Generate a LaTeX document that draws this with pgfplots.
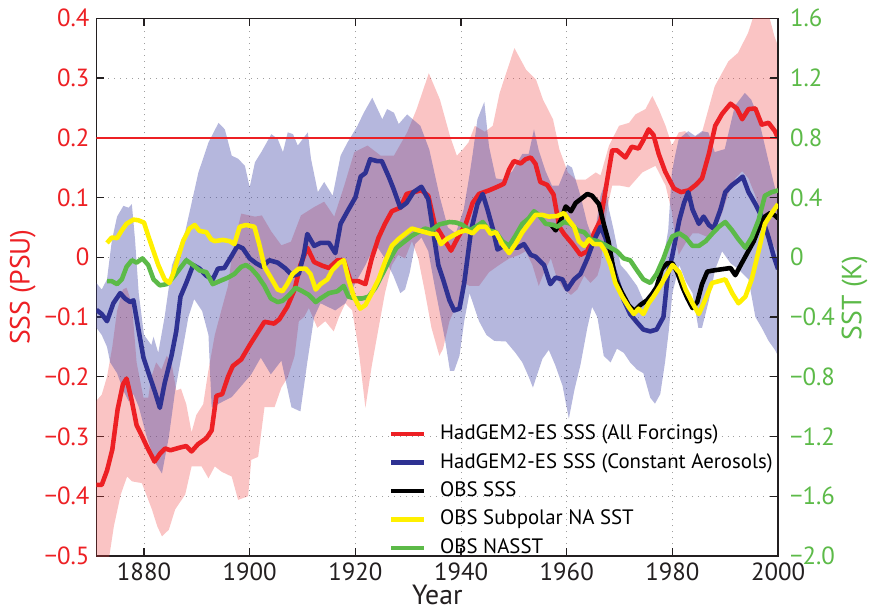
\documentclass[border=0pt]{standalone}
\usepackage{fontspec}
\setmainfont{PT Sans}
\usepackage{pgfplots}
\pgfplotsset{compat=1.18}
\usepgfplotslibrary{fillbetween}
\usetikzlibrary{calc}

\definecolor{sssred}{RGB}{237,32,36}
\definecolor{aeroblue}{RGB}{46,49,146}
\definecolor{obsyellow}{RGB}{255,240,0}
\definecolor{nagreen}{RGB}{92,186,72}
\definecolor{pinkfill}{RGB}{240,60,60}
\definecolor{lavfill}{RGB}{60,66,165}
\definecolor{axisgray}{RGB}{35,31,32}

\pgfplotsset{
  twin/.style={
    scale only axis, width=343.5pt, height=271pt,
    xmin=1871, xmax=2000,
    tick align=inside, major tick length=4pt,
    axis line style={axisgray, line width=0.7pt},
    tick style={axisgray, line width=0.6pt},
    tick label style={font=\fontsize{12.5}{14}\selectfont},
  },
}

\begin{document}
\begin{tikzpicture}
% left axis: SSS (PSU)
\begin{axis}[twin, name=main,
    ymin=-0.5, ymax=0.4,
    xtick={1880,1900,1920,1940,1960,1980,2000},
    xticklabels={1880,1900,1920,1940,1960,1980,2000},
    xtick pos=both, ytick pos=left,
    ytick={-0.5,-0.4,-0.3,-0.2,-0.1,0,0.1,0.2,0.3,0.4},
    yticklabels={−0.5,−0.4,−0.3,−0.2,−0.1,0,0.1,0.2,0.3,0.4},
    yticklabel style={text=sssred},
    xticklabel style={text=axisgray},
    grid=major, grid style={gray!75, line width=0.5pt, dash pattern=on 0.5pt off 2.5pt},
    xlabel={Year},
    xlabel style={at={(axis description cs:0.5,-0.072)}, anchor=center, text=axisgray, font=\fontsize{14}{16}\selectfont},
    ylabel={SSS (PSU)},
    every axis y label/.style={at={(axis description cs:-0.108,0.5)}, rotate=90, anchor=center, text=sssred, font=\fontsize{14}{16}\selectfont},
]
% HadGEM2-ES all forcings spread
\addplot[name path=pu, draw=none] coordinates {
(1871,-0.24)(1872,-0.23)(1873,-0.20)(1874,-0.15)(1874.9,-0.09)(1876,-0.054)(1876.7,-0.051)
(1877.7,-0.077)(1878.6,-0.176)(1879.9,-0.235)(1880.8,-0.235)(1881.4,-0.2)(1882.3,-0.176)
(1883.3,-0.188)(1884.3,-0.165)(1885.2,-0.176)(1886.1,-0.223)(1887,-0.22)(1888,-0.246)
(1889,-0.293)(1889.9,-0.264)(1891.2,-0.246)(1892.1,-0.194)(1893.4,-0.13)(1894.6,-0.09)
(1895.9,-0.048)(1896.6,0.0)(1897.5,0.04)(1898.4,0.073)(1900,0.07)(1901,0.068)(1902.3,0.07)
(1904.1,0.043)(1906,0.02)(1907.8,0.026)(1909.7,0.07)(1912.2,0.084)(1914.1,0.093)(1916,0.068)
(1917.9,0.12)(1919.8,0.176)(1922.3,0.187)(1924.8,0.17)(1927.3,0.17)(1929.8,0.209)(1931.6,0.248)
(1933.9,0.308)(1936,0.264)(1937.9,0.203)(1939.2,0.17)(1940.1,0.178)(1941.4,0.192)(1942.6,0.22)
(1944.5,0.21)(1946,0.22)(1947.3,0.275)(1950.1,0.35)(1952.3,0.314)(1954.2,0.297)(1955.5,0.264)
(1957.4,0.231)(1958.6,0.181)(1960.2,0.142)(1961.7,0.13)(1963.6,0.13)(1965.5,0.142)(1966.4,0.137)
(1968,0.187)(1969.9,0.22)(1971.8,0.225)(1973,0.239)(1974.9,0.248)(1976.2,0.27)(1977.4,0.248)
(1978.7,0.22)(1979.9,0.187)(1981.2,0.209)(1982.4,0.211)(1983.7,0.198)(1985.6,0.209)(1988,0.286)
(1990.6,0.328)(1992.4,0.342)(1994.3,0.375)(1995.6,0.41)(1998.1,0.41)(1999.3,0.37)(2000,0.353)};
\addplot[name path=pl, draw=none] coordinates {
(1871,-0.52)(1873.1,-0.52)(1874.3,-0.45)(1875.6,-0.397)(1876.8,-0.367)(1877.7,-0.375)
(1879.6,-0.378)(1881.5,-0.422)(1882.5,-0.45)(1883.4,-0.467)(1884.7,-0.456)(1885.9,-0.422)
(1887.8,-0.397)(1889,-0.35)(1890.9,-0.35)(1892.2,-0.37)(1893.4,-0.35)(1894.7,-0.359)
(1896.6,-0.367)(1897.8,-0.406)(1899.7,-0.40)(1900.3,-0.339)(1901.6,-0.334)(1902.8,-0.251)
(1904.7,-0.251)(1906,-0.218)(1907.2,-0.201)(1908.5,-0.165)(1909.3,-0.107)(1910.3,-0.1)
(1911.2,-0.085)(1912.8,-0.118)(1914.3,-0.107)(1915.9,-0.124)(1916.9,-0.1)(1918.1,-0.077)
(1919.4,-0.089)(1920.6,-0.153)(1921.9,-0.252)(1923.1,-0.182)(1924.4,-0.118)(1925.6,-0.06)
(1926.9,-0.013)(1928.1,0.004)(1929.4,-0.002)(1930.7,0.027)(1931.9,-0.002)(1933.2,-0.06)
(1934.4,-0.118)(1935.9,-0.165)(1936.6,-0.153)(1937.8,-0.107)(1938.7,-0.089)(1939.7,-0.083)
(1940.6,-0.043)(1941.6,-0.048)(1943.4,-0.048)(1945.3,-0.025)(1947.2,-0.013)(1949.1,-0.002)
(1951,0.004)(1952.2,0.01)(1953.5,-0.013)(1954.7,-0.048)(1956,-0.019)(1957,-0.002)
(1958.2,-0.037)(1959.5,-0.054)(1960.8,-0.063)(1962,-0.054)(1963.3,-0.031)(1964.5,-0.043)
(1965.8,-0.031)(1966.4,-0.013)(1967.6,0.08)(1968.6,0.12)(1970,0.12)(1971.8,0.117)
(1974.3,0.142)(1976.8,0.153)(1978.7,0.12)(1979.9,0.076)(1980.5,0.032)(1981.2,0.004)
(1982.5,0.024)(1983.8,0.04)(1985,0.04)(1986.9,0.033)(1988.1,0.045)(1989.4,0.074)
(1990.7,0.109)(1991.9,0.132)(1993.2,0.144)(1994.4,0.132)(1995.7,0.103)(1996.9,0.068)
(1998.2,0.033)(1999.4,0.016)(2000,0.004)};
\addplot[pinkfill, fill opacity=0.3, draw=none] fill between[of=pu and pl];
% HadGEM2-ES constant aerosols spread
\addplot[name path=bu, draw=none] coordinates {
(1871,-0.043)(1872,-0.054)(1873,-0.037)(1873.9,0.027)(1874.9,0.068)(1876.1,0.086)(1877.1,0.083)
(1877.7,0.089)(1878.3,0.03)(1879,-0.06)(1880,-0.13)(1881.4,-0.147)(1881.8,-0.133)(1882.7,-0.16)
(1883.9,-0.1)(1885.3,-0.013)(1887.8,0.043)(1890.3,0.142)(1892.2,0.192)(1894.1,0.225)
(1895.3,0.214)(1896.6,0.17)(1897.8,0.165)(1899.1,0.153)(1900,0.117)(1901,0.159)(1902.2,0.176)
(1904.1,0.206)(1905.3,0.198)(1906.3,0.176)(1907.2,0.209)(1908.2,0.206)(1909.1,0.187)(1911,0.209)
(1911.6,0.165)(1912.9,0.109)(1914.1,0.126)(1915.7,0.103)(1917.2,0.17)(1918.5,0.192)(1920.4,0.22)
(1921.6,0.242)(1923.2,0.267)(1925.1,0.231)(1926,0.248)(1927.3,0.242)(1928.2,0.223)(1929.8,0.239)
(1932.3,0.22)(1934,0.18)(1936,0.1)(1937.5,0.05)(1939,0.04)(1940.5,0.08)(1941.6,0.138)
(1942.2,0.173)(1943.1,0.231)(1944.4,0.26)(1945.3,0.185)(1946.6,0.132)(1948,0.13)(1949.7,0.144)
(1951.6,0.173)(1952.8,0.173)(1953.8,0.214)(1954.7,0.179)(1956,0.144)(1957.2,0.12)(1958.5,0.12)
(1960.1,0.155)(1961,0.15)(1962.6,0.103)(1963.9,0.056)(1965.1,0.027)(1966.4,0.103)(1967.3,0.126)
(1968,0.08)(1968.9,0.045)(1970.2,-0.013)(1971.4,-0.025)(1973.3,-0.048)(1974.5,-0.072)
(1975.8,-0.06)(1977,-0.043)(1978.3,-0.002)(1979.2,0.045)(1979.9,0.142)(1980.5,0.17)(1981.2,0.198)
(1983,0.211)(1984.3,0.203)(1985.6,0.211)(1986.8,0.209)(1988,0.176)(1989.9,0.181)(1991.8,0.253)
(1993.7,0.275)(1994.9,0.264)(1996.2,0.236)(1998.1,0.164)(1999.3,0.12)(2000,0.098)};
\addplot[name path=bl, draw=none] coordinates {
(1871,-0.118)(1872,-0.13)(1873,-0.15)(1873.6,-0.176)(1874.9,-0.194)(1876.1,-0.223)(1877.1,-0.241)
(1878,-0.229)(1879,-0.25)(1880.5,-0.3)(1882.2,-0.345)(1883.4,-0.362)(1884.7,-0.301)(1885.9,-0.223)
(1887.2,-0.16)(1888.4,-0.1)(1889.5,-0.07)(1891,-0.09)(1892.2,-0.13)(1892.8,-0.251)(1896.6,-0.234)
(1900.3,-0.196)(1902.1,-0.168)(1904,-0.196)(1906,-0.173)(1907.9,-0.251)(1909.6,-0.258)
(1910.9,-0.176)(1912.2,-0.1)(1913.4,-0.077)(1916.2,-0.089)(1918.1,-0.077)(1920,-0.043)
(1921.9,-0.013)(1923.8,0.022)(1925.6,-0.002)(1927.2,-0.031)(1928.5,-0.06)(1929.4,-0.054)
(1930.3,-0.025)(1931.3,0.022)(1932.5,0.033)(1933.8,0.01)(1935,-0.048)(1935.9,-0.089)(1937,-0.14)
(1937.9,-0.19)(1938.7,-0.19)(1939.7,-0.165)(1940.6,-0.107)(1941.6,-0.06)(1943.4,-0.107)
(1944.8,-0.13)(1946.3,-0.14)(1948.5,-0.141)(1950.3,-0.16)(1951.6,-0.176)(1952.8,-0.2)
(1953.6,-0.218)(1955.4,-0.17)(1956.6,-0.155)(1957.8,-0.18)(1959.2,-0.215)(1960.4,-0.27)
(1961.5,-0.22)(1962.6,-0.18)(1963.9,-0.118)(1964.8,-0.083)(1965.8,-0.1)(1967,-0.165)
(1968.3,-0.176)(1969.5,-0.153)(1970.8,-0.16)(1972,-0.176)(1973.3,-0.188)(1974.5,-0.194)
(1975.8,-0.235)(1976.7,-0.245)(1977.7,-0.229)(1978.6,-0.176)(1979.3,-0.124)(1980,-0.06)
(1981.3,-0.013)(1982.5,-0.04)(1983.8,-0.06)(1984.9,-0.118)(1985.6,-0.118)(1986.9,-0.072)
(1988.1,-0.02)(1989.4,0.01)(1991,-0.01)(1992.5,-0.02)(1994.4,-0.037)(1995.7,-0.1)(1996.9,-0.118)
(1998.2,-0.14)(1999.4,-0.155)(2000,-0.165)};
\addplot[lavfill, fill opacity=0.38, draw=none] fill between[of=bu and bl];
% threshold
\addplot[sssred, line width=1.2pt] coordinates {(1871,0.2)(2000,0.2)};
% HadGEM2-ES SSS (All Forcings)
\addplot[sssred, line width=2.3pt, line join=round] coordinates {
(1871,-0.381)(1872,-0.381)(1873,-0.357)(1874,-0.322)(1875,-0.255)(1876,-0.213)(1876.7,-0.203)
(1877.7,-0.241)(1878.6,-0.281)(1879.6,-0.299)(1880.5,-0.316)(1882,-0.342)(1883,-0.329)(1884,-0.320)
(1885,-0.323)(1887,-0.318)(1888,-0.316)(1889,-0.325)(1890.2,-0.313)(1891.8,-0.303)(1892.8,-0.29)
(1893.7,-0.232)(1894.8,-0.229)(1895.9,-0.2)(1896.8,-0.182)(1898.4,-0.171)(1900,-0.147)(1901,-0.133)
(1902.8,-0.108)(1904.6,-0.111)(1905.6,-0.104)(1907.1,-0.083)(1908.5,-0.054)(1909.6,-0.013)
(1910.9,0.016)(1912.2,-0.008)(1913.7,-0.014)(1915,-0.018)(1916.6,-0.005)(1917.8,-0.005)
(1919.1,-0.04)(1920.6,-0.04)(1921.9,-0.045)(1923.1,-0.002)(1924.4,0.033)(1925.6,0.056)
(1926.9,0.077)(1928.5,0.083)(1929.7,0.106)(1931,0.109)(1932.5,0.112)(1933.8,0.103)(1935,0.056)
(1936.6,0.033)(1938.1,0.011)(1939.4,0.033)(1940.9,0.056)(1942.2,0.091)(1943.4,0.106)(1945.3,0.112)
(1946.9,0.118)(1948.1,0.123)(1949.1,0.147)(1950,0.161)(1951.3,0.157)(1952.2,0.164)(1953.2,0.167)
(1954.1,0.156)(1955,0.126)(1956.3,0.121)(1957.5,0.105)(1958.6,0.051)(1959.5,0.039)(1961.1,0.022)
(1962.6,0.004)(1963.9,0.01)(1965.1,0.039)(1966.4,0.062)(1967.6,0.126)(1968.6,0.179)(1969.5,0.179)
(1971.1,0.167)(1972.3,0.185)(1973.6,0.182)(1974.5,0.196)(1975.5,0.214)(1976.4,0.205)(1977.4,0.173)
(1978.6,0.144)(1979.4,0.13)(1980.3,0.115)(1981.6,0.109)(1983.1,0.112)(1984.4,0.121)(1985.6,0.132)
(1986.9,0.173)(1988.1,0.22)(1989.4,0.24)(1991,0.257)(1992.2,0.249)(1993.2,0.231)(1994.4,0.248)
(1995.7,0.249)(1996.9,0.222)(1998.2,0.225)(1999.4,0.211)(2000,0.199)};
% HadGEM2-ES SSS (Constant Aerosols)
\addplot[aeroblue, line width=2.3pt, line join=round] coordinates {
(1871,-0.088)(1872,-0.095)(1873,-0.107)(1874.2,-0.077)(1875.5,-0.06)(1876.4,-0.069)(1877.4,-0.075)
(1878,-0.072)(1878.9,-0.118)(1879.9,-0.168)(1881.1,-0.2)(1882.1,-0.226)(1883,-0.252)(1883.9,-0.211)
(1885.2,-0.165)(1886.1,-0.124)(1886.9,-0.066)(1888,-0.043)(1889.3,-0.013)(1890.5,-0.019)
(1891.8,-0.031)(1893,-0.037)(1894,-0.019)(1895.2,-0.018)(1896.5,0.001)(1897.7,0.019)(1898.7,0.015)
(1900,-0.002)(1901.2,-0.01)(1902.4,-0.016)(1903.7,-0.005)(1905.3,-0.009)(1906.8,-0.019)
(1908.1,-0.031)(1909.3,-0.028)(1910.3,0.007)(1910.9,0.039)(1912.2,0.019)(1913.4,0.024)(1915,0.024)
(1916.2,0.007)(1917.2,0.056)(1918.7,0.08)(1920,0.1)(1921,0.135)(1921.9,0.141)(1922.8,0.164)
(1924.1,0.161)(1925,0.161)(1926.3,0.135)(1927.2,0.115)(1928.5,0.083)(1929.7,0.091)(1931,0.109)
(1932.5,0.118)(1933.8,0.097)(1934.7,0.045)(1935.7,-0.013)(1936.6,-0.037)(1937.8,-0.072)
(1938.7,-0.089)(1939.7,-0.086)(1940.6,-0.043)(1941.9,0.045)(1943.1,0.089)(1944.1,0.106)(1945,0.08)
(1946,0.048)(1946.9,0.013)(1948.1,0.019)(1949.4,0.016)(1950.7,0.016)(1951.9,0.022)(1953.2,0.004)
(1954.1,0.001)(1955.7,-0.013)(1956.9,-0.045)(1957.9,-0.034)(1959.2,-0.037)(1960.1,-0.054)
(1961.4,-0.037)(1962.6,-0.028)(1963.9,-0.002)(1965.1,0.027)(1966.4,0.051)(1967.3,0.033)
(1968.3,-0.002)(1969.5,-0.037)(1970.8,-0.072)(1972,-0.095)(1973.3,-0.109)(1974.5,-0.121)
(1975.8,-0.124)(1977,-0.121)(1978.3,-0.1)(1979.1,-0.031)(1980,0.004)(1981.3,0.062)(1982.2,0.091)
(1983,0.109)(1983.8,0.08)(1985,0.056)(1985.9,0.068)(1986.9,0.054)(1987.8,0.048)(1989.1,0.08)
(1990,0.109)(1991.3,0.121)(1992.5,0.129)(1993.3,0.135)(1994.4,0.109)(1995.7,0.089)(1996.9,0.068)
(1998.2,0.033)(1999.1,0.004)(2000,-0.02)};
% OBS SSS
\addplot[black, line width=2.3pt, line join=round] coordinates {
(1957,0.055)(1957.9,0.045)(1958.9,0.062)(1959.8,0.085)(1960.8,0.077)(1961.7,0.091)(1962.6,0.097)
(1963.9,0.106)(1964.8,0.103)(1966.1,0.089)(1967,0.056)(1967.9,0.027)(1968.6,-0.008)(1969.2,-0.037)
(1970.5,-0.06)(1971.7,-0.08)(1972.8,-0.09)(1973.9,-0.08)(1975.2,-0.072)(1976.1,-0.062)(1977,-0.05)
(1978,-0.02)(1979,-0.01)(1980,-0.01)(1980.9,-0.025)(1981.9,-0.05)(1982.8,-0.068)(1983.8,-0.085)
(1984.7,-0.075)(1985.6,-0.045)(1986.6,-0.024)(1987.8,-0.022)(1989.4,-0.02)(1991,-0.018)
(1991.9,-0.03)(1992.8,-0.015)(1994.1,0.006)(1995.4,0.027)(1996.6,0.054)(1997.5,0.068)
(1998.5,0.074)(1999.4,0.07)(2000,0.065)};
\end{axis}
% right axis: SST (K)
\begin{axis}[twin,
    ymin=-2, ymax=1.6,
    hide x axis, axis y line*=right, ytick pos=right,
    ytick={-2,-1.6,-1.2,-0.8,-0.4,0,0.4,0.8,1.2,1.6},
    yticklabels={−2.0,−1.6,−1.2,−0.8,−0.4,0,0.4,0.8,1.2,1.6},
    yticklabel style={text=nagreen, xshift=2.5pt},
    ylabel={SST (K)},
    every axis y label/.style={at={(axis description cs:1.112,0.48)}, rotate=90, anchor=center, text=nagreen, font=\fontsize{14}{16}\selectfont},
    legend style={draw=none, fill=none, at={(axis description cs:0.42,0.252)}, anchor=north west,
        font=\fontsize{10.5}{12}\selectfont, row sep=4.8pt, column sep=0pt,
        nodes={inner sep=0pt, text height=7.5pt, text depth=2pt}},
    legend cell align=left,
    legend image code/.code={\draw[#1, line width=2.2pt] (0pt,0pt) -- (16.5pt,0pt); \path (23.5pt,0pt);},
]
\addlegendimage{sssred}
\addlegendentry{HadGEM2-ES SSS (All Forcings)}
\addlegendimage{aeroblue}
\addlegendentry{HadGEM2-ES SSS (Constant Aerosols)}
\addlegendimage{black}
\addlegendentry{OBS SSS}
% OBS NASST
\addplot[nagreen, line width=2.3pt, line join=round, forget plot] coordinates {
(1873,-0.16)(1873.9,-0.16)(1874.9,-0.18)(1875.8,-0.148)(1876.7,-0.064)(1877.7,-0.02)(1878.6,-0.036)
(1879.7,-0.008)(1880.8,-0.052)(1881.8,-0.148)(1883,-0.188)(1884.3,-0.18)(1885.5,-0.136)
(1886.8,-0.076)(1888,-0.02)(1889.3,-0.052)(1890.5,-0.088)(1891.8,-0.1)(1893,-0.18)(1894.3,-0.16)
(1895.9,-0.136)(1897.1,-0.112)(1898.4,-0.064)(1899.3,-0.052)(1900.3,-0.076)(1901.5,-0.124)
(1902.8,-0.192)(1904,-0.276)(1905.3,-0.3)(1906.2,-0.292)(1907.5,-0.252)(1908.7,-0.204)(1910,-0.228)
(1911.2,-0.252)(1912.5,-0.3)(1913.4,-0.276)(1915,-0.24)(1916.6,-0.228)(1917.8,-0.192)(1918.7,-0.264)
(1920,-0.276)(1921.3,-0.276)(1922.5,-0.264)(1923.8,-0.204)(1925.3,-0.1)(1926.6,-0.008)(1927.8,0.064)
(1929.4,0.108)(1930.7,0.144)(1931.9,0.168)(1933.2,0.192)(1934.4,0.18)(1935.9,0.22)(1937.8,0.236)
(1939.1,0.232)(1940.3,0.216)(1941.6,0.18)(1942.8,0.204)(1944.1,0.236)(1945.3,0.18)(1946.6,0.168)
(1947.8,0.108)(1949.1,0.076)(1950.3,0.144)(1951.6,0.224)(1952.8,0.26)(1953.8,0.308)(1954.7,0.284)
(1956,0.224)(1957.5,0.216)(1958.2,0.204)(1959.5,0.236)(1960.8,0.224)(1962,0.18)(1963.3,0.168)
(1964.5,0.12)(1965.8,0.108)(1967,0.088)(1968.3,0.064)(1969.5,0.04)(1970.8,-0.008)(1972,-0.02)
(1973.3,-0.088)(1974.5,-0.148)(1975.8,-0.172)(1977,-0.112)(1978.3,-0.008)(1979.2,0.08)(1980,0.14)
(1981.3,0.16)(1982.5,0.132)(1983.8,0.076)(1985,0.076)(1986.3,0.108)(1987.5,0.156)(1988.8,0.204)
(1990,0.236)(1991.3,0.18)(1992.5,0.12)(1993.8,0.064)(1995,0.132)(1996.3,0.248)(1997.5,0.412)
(1998.8,0.436)(2000,0.448)};
% OBS Subpolar NA SST
\addplot[obsyellow, line width=2.3pt, line join=round] coordinates {
(1873,0.096)(1873.9,0.132)(1874.9,0.128)(1875.8,0.18)(1876.7,0.224)(1878,0.252)(1878.9,0.248)
(1880,0.232)(1880.8,0.144)(1881.8,0.04)(1882.7,-0.052)(1883.9,-0.148)(1884.8,-0.172)(1885.5,-0.112)
(1886.5,0.004)(1887.4,0.108)(1888.6,0.192)(1889.6,0.216)(1890.5,0.176)(1891.8,0.168)(1892.7,0.12)
(1893.4,0.108)(1894.9,0.116)(1896.2,0.108)(1897.1,0.088)(1898.1,0.204)(1899.3,0.216)(1900.9,0.204)
(1901.8,0.088)(1902.8,-0.064)(1904,-0.136)(1905.3,-0.216)(1906.2,-0.228)(1907.1,-0.18)(1908.1,-0.112)
(1909.3,-0.076)(1910.6,-0.076)(1911.5,-0.112)(1912.5,-0.216)(1913.4,-0.18)(1914.7,-0.148)
(1915.6,-0.088)(1916.9,-0.04)(1917.8,-0.02)(1918.7,-0.148)(1919.7,-0.264)(1920.9,-0.344)
(1921.9,-0.32)(1923.1,-0.24)(1924.4,-0.148)(1925.6,-0.032)(1926.9,0.076)(1928.1,0.12)(1929.4,0.156)
(1930.7,0.192)(1931.9,0.18)(1933.2,0.168)(1934.4,0.156)(1935.3,0.156)(1936.2,0.088)(1937.2,0.12)
(1938.4,0.144)(1939.7,0.168)(1940.9,0.18)(1942.2,0.16)(1943.4,0.204)(1944.7,0.204)(1945.6,0.156)
(1946.6,0.168)(1947.8,0.088)(1949.1,0.028)(1950.3,0.088)(1951.6,0.168)(1952.8,0.224)(1954.1,0.284)
(1955.3,0.284)(1956.6,0.272)(1958.2,0.276)(1959.5,0.296)(1960.4,0.248)(1961.4,0.204)(1962.3,0.108)
(1963.3,0.076)(1964.2,0.12)(1965.1,0.088)(1966.4,0.088)(1967.3,0.04)(1968.3,-0.052)(1969.2,-0.172)
(1970.5,-0.264)(1971.7,-0.332)(1972.7,-0.38)(1973.6,-0.344)(1974.5,-0.38)(1975.5,-0.308)
(1976.4,-0.264)(1977.7,-0.192)(1979.2,-0.1)(1980,-0.052)(1981.3,-0.1)(1982.5,-0.216)(1983.8,-0.308)
(1985,-0.38)(1986.3,-0.276)(1987.5,-0.172)(1988.8,-0.16)(1990,-0.148)(1991.3,-0.24)(1992.5,-0.308)
(1993.8,-0.264)(1995,-0.148)(1996.3,0.04)(1997.5,0.224)(1998.8,0.296)(2000,0.356)};
\addlegendentry{OBS Subpolar NA SST}
\addlegendimage{nagreen}
\addlegendentry{OBS NASST}
\end{axis}
\path ($(main.south west)+(-48.6pt,-25.5pt)$) rectangle ($(main.north east)+(45pt,9.2pt)$);
\end{tikzpicture}
\end{document}
